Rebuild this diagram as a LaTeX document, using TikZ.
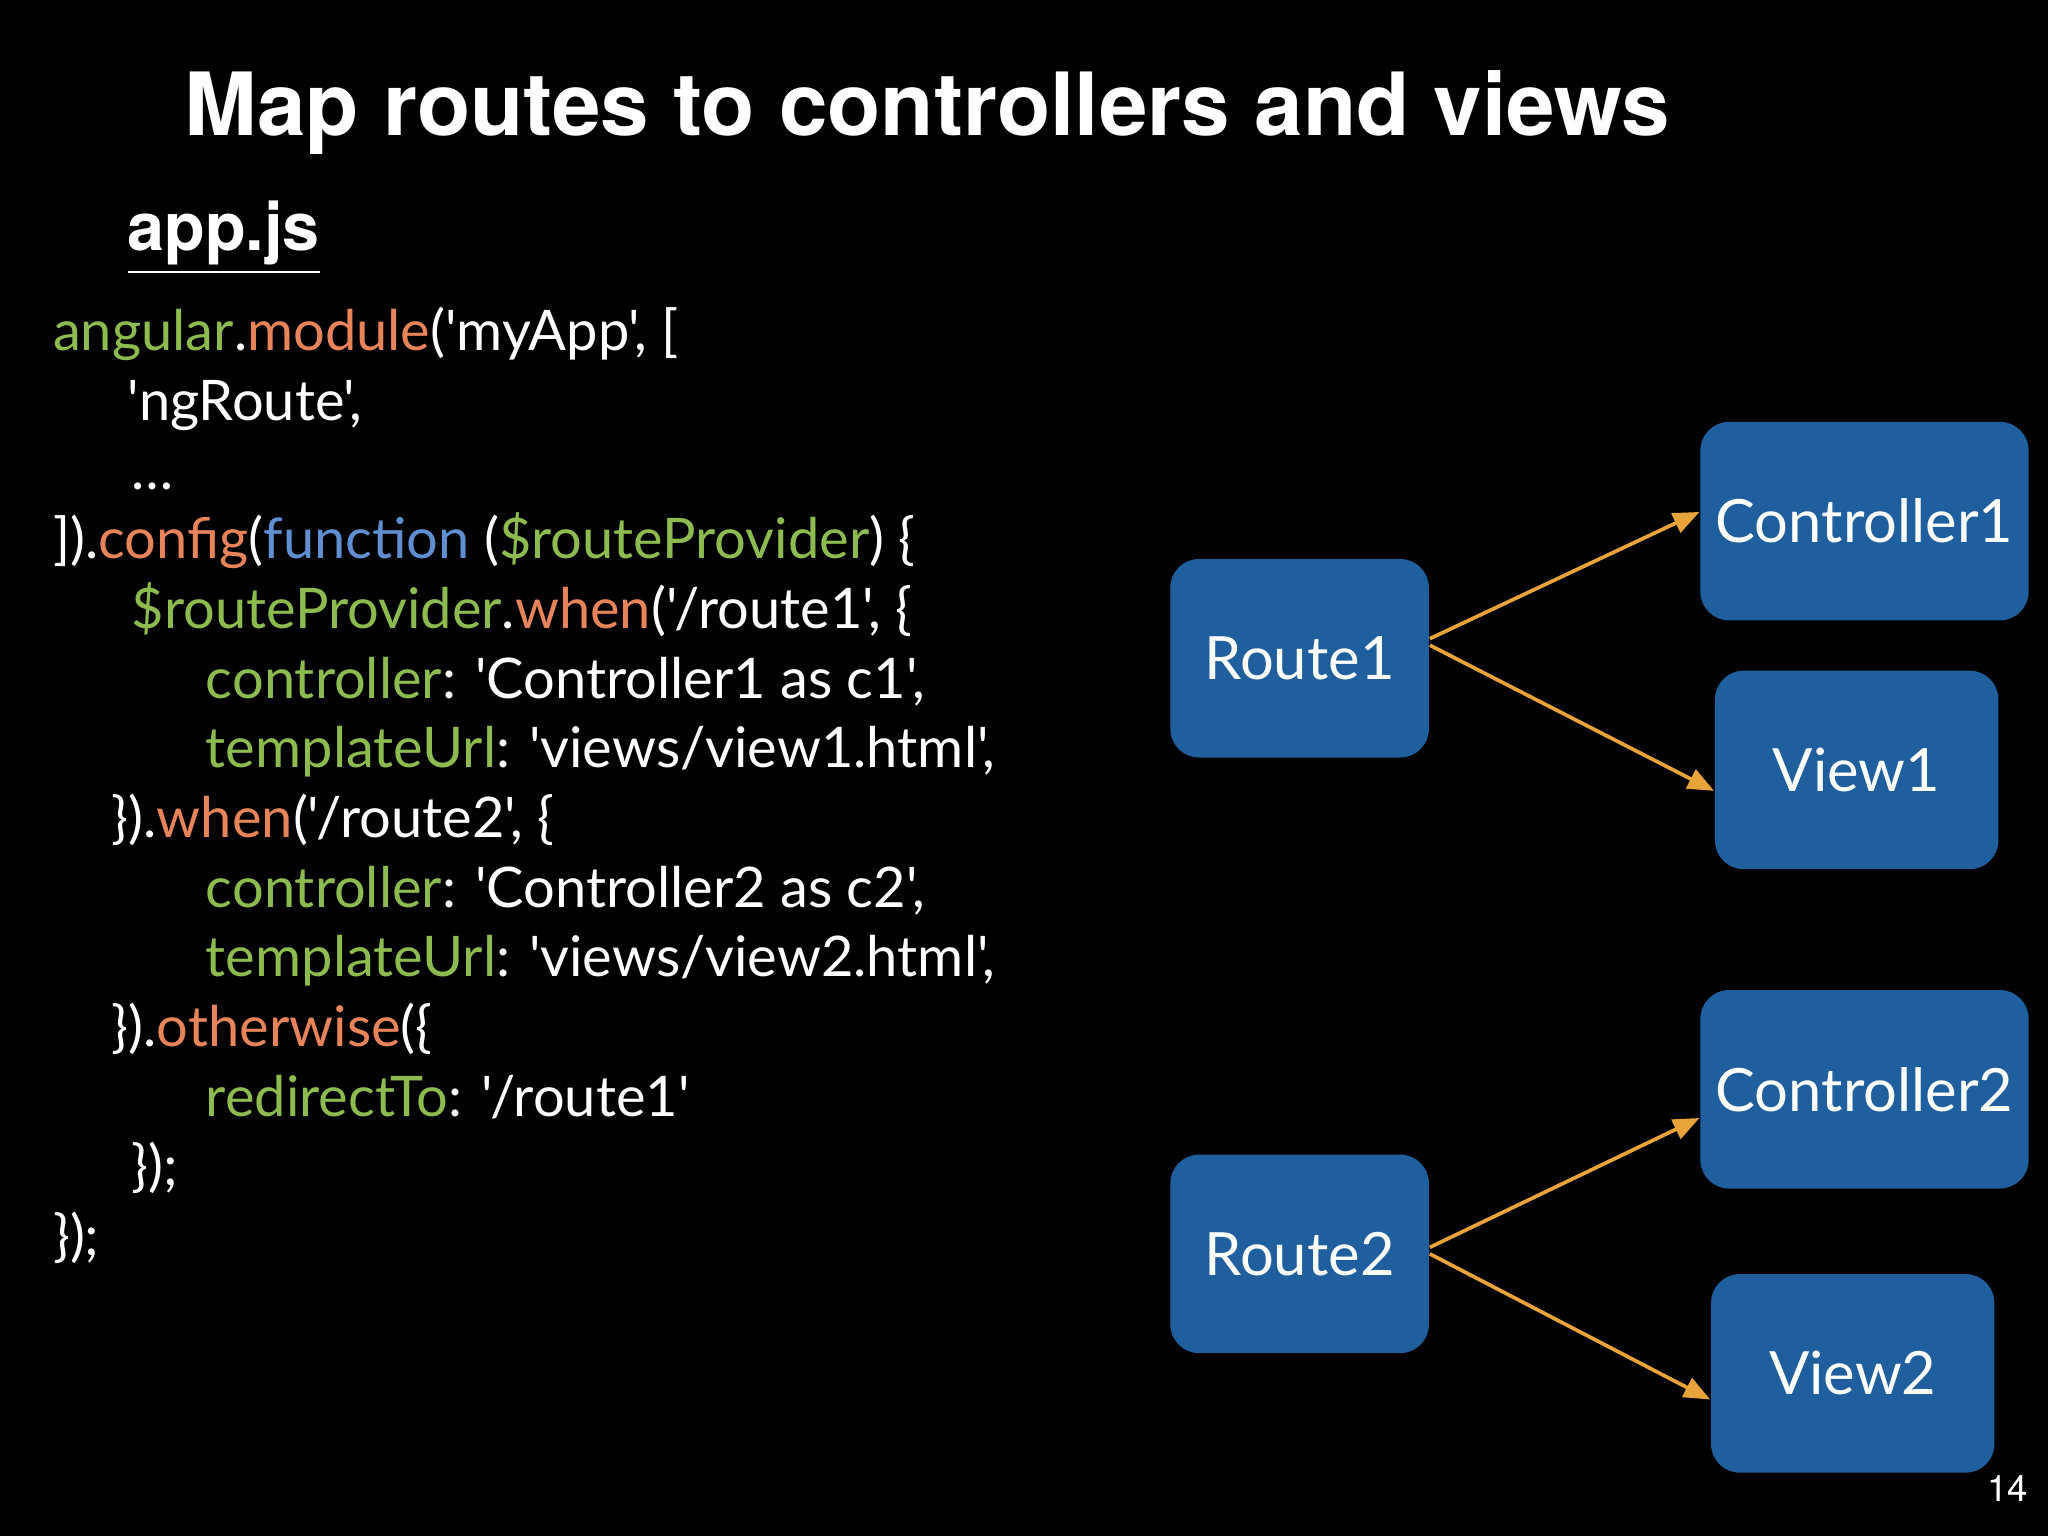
\documentclass[tikz,border=0pt]{standalone}
\usepackage{fontspec}
\newfontfamily\titlefont{TeX Gyre Heros}
\newfontfamily\codefont{Lato}
\usetikzlibrary{arrows.meta}
\definecolor{boxblue}{HTML}{1F5F9E}
\definecolor{arrorange}{HTML}{E8A33A}
\definecolor{kgreen}{HTML}{8DBB50}
\definecolor{korange}{HTML}{E8845A}
\definecolor{kblue}{HTML}{5F8FD0}
\begin{document}
\begin{tikzpicture}[x=1cm,y=1cm,
  box/.style={rectangle, rounded corners=0.22cm, fill=boxblue, minimum height=1.52cm,
    text=white, font=\codefont\fontsize{13}{13}\selectfont},
  code/.style={anchor=base west, inner sep=0pt, text=white, font=\codefont\fontsize{12.2}{12.2}\selectfont},
  link/.style={draw=arrorange, line width=0.8pt, -{Triangle[length=0.2cm,width=0.16cm]}}]
\fill[black] (0,0) rectangle (15.68,11.76);
\useasboundingbox (0,0) rectangle (15.68,11.76);
% title
\node (title) at (7.1,10.9) [text=white, font=\titlefont\bfseries\fontsize{19}{19}\selectfont] {Map routes to controllers and views};
\node (file) at (0.97,9.84) [code, font=\titlefont\bfseries\fontsize{14.5}{14.5}\selectfont] {\underline{app.js}};
% code
\node (l1) at (0.40,9.08) [code] {\textcolor{kgreen}{angular}.\textcolor{korange}{module}('myApp', [};
\node (l2) at (0.97,8.54) [code] {'ngRoute',};
\node (l3) at (1.00,8.01) [code] {\dots};
\node (l4) at (0.40,7.48) [code] {]).\textcolor{korange}{config}(\textcolor{kblue}{function} (\textcolor{kgreen}{\$routeProvider}) \{};
\node (l5) at (1.00,6.95) [code] {\textcolor{kgreen}{\$routeProvider}.\textcolor{korange}{when}('/route1', \{};
\node (l6) at (1.57,6.41) [code] {\textcolor{kgreen}{controller}: 'Controller1 as c1',};
\node (l7) at (1.57,5.88) [code] {\textcolor{kgreen}{templateUrl}: 'views/view1.html',};
\node (l8) at (0.85,5.35) [code] {\}).\textcolor{korange}{when}('/route2', \{};
\node (l9) at (1.57,4.81) [code] {\textcolor{kgreen}{controller}: 'Controller2 as c2',};
\node (l10) at (1.57,4.28) [code] {\textcolor{kgreen}{templateUrl}: 'views/view2.html',};
\node (l11) at (0.85,3.75) [code] {\}).\textcolor{korange}{otherwise}(\{};
\node (l12) at (1.57,3.21) [code] {\textcolor{kgreen}{redirectTo}: '/route1'};
\node (l13) at (1.00,2.68) [code] {\});};
\node (l14) at (0.40,2.15) [code] {\});};
% boxes
\node (r1) at (9.95,6.72) [box, minimum width=1.98cm] {Route1};
\node (c1) at (14.275,7.77) [box, minimum width=2.27cm] {Controller1};
\node (v1) at (14.215,5.865) [box, minimum width=2.17cm] {View1};
\node (r2) at (9.95,2.16) [box, minimum width=1.98cm] {Route2};
\node (c2) at (14.275,3.42) [box, minimum width=2.27cm] {Controller2};
\node (v2) at (14.185,1.245) [box, minimum width=2.17cm] {View2};
\draw[link] ([yshift=0.15cm]r1.east) -- ([yshift=0.07cm]c1.west);
\draw[link] ([yshift=0.10cm]r1.east) -- ([yshift=-0.16cm]v1.west);
\draw[link] ([yshift=0.05cm]r2.east) -- ([yshift=-0.22cm]c2.west);
\draw[link] ([yshift=0.00cm]r2.east) -- ([yshift=-0.20cm]v2.west);
\node (page) at (15.37,0.36) [text=white, font=\titlefont\fontsize{8}{8}\selectfont] {14};
\end{tikzpicture}
\end{document}
